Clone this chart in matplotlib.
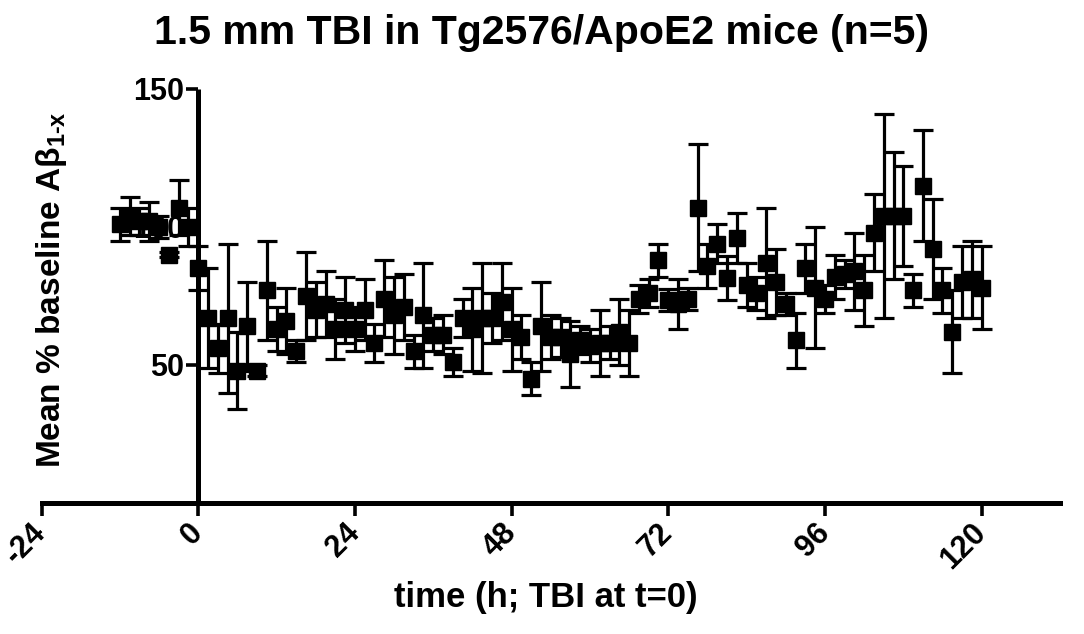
import matplotlib
matplotlib.use("Agg")
import matplotlib.pyplot as plt

plt.rcParams['font.family'] = ['Liberation Sans', 'DejaVu Sans']
plt.rcParams['font.weight'] = 'bold'
plt.rcParams['axes.unicode_minus'] = False
plt.rcParams['mathtext.fontset'] = 'custom'
plt.rcParams['mathtext.rm'] = 'Liberation Sans:bold'
plt.rcParams['mathtext.it'] = 'Liberation Sans:bold'
plt.rcParams['mathtext.bf'] = 'Liberation Sans:bold'

# time (h), TBI at t=0
time_h = [-12, -10.5, -9, -7.5, -6, -4.5, -3, -1.5, 0,
          1.5, 3, 4.5, 6, 7.5, 9, 10.5, 12, 13.5, 15, 16.5, 18, 19.5, 21, 22.5,
          24, 25.5, 27, 28.5, 30, 31.5, 33, 34.5, 36, 37.5, 39, 40.5, 42, 43.5,
          45, 46.5, 48, 49.5, 51, 52.5, 54, 55.5, 57, 58.5, 60, 61.5, 63, 64.5,
          66, 67.5, 69, 70.5, 72, 73.5, 75, 76.5, 78, 79.5, 81, 82.5, 84, 85.5,
          87, 88.5, 90, 91.5, 93, 94.5, 96, 97.5, 99, 100.5, 102, 103.5, 105,
          106.5, 108, 109.5, 111, 112.5, 114, 115.5, 117, 118.5, 120]

mean_pct = [101, 104, 102, 102, 100, 90, 107, 100, 85,
            67, 56, 67, 48, 64, 48, 77, 63, 66, 55, 75, 70, 72, 63, 70,
            63, 70, 58, 74, 68, 71, 55, 68, 61, 61, 51, 67, 63, 67,
            67, 73, 63, 60, 45, 64, 60, 60, 54, 59, 57, 58, 58, 62,
            58, 74, 76, 88, 73.5, 72, 74, 107, 86, 94, 81.5, 96, 79, 76,
            87, 80, 72, 59, 85, 78, 74, 82, 83, 84, 77, 98, 104,
            104, 104, 77, 115, 92, 77, 62, 80, 81, 78]

sem_pct = [6, 7, 5, 7, 4, 1, 10, 7, 8,
           18, 9, 27, 14, 16, 2, 18, 8, 12, 4, 16, 10, 12, 11, 12,
           8, 11, 7, 14, 14, 12, 6, 19, 6, 7, 5, 7, 15, 20,
           9, 14, 15, 8, 6, 16, 8, 7, 12, 5, 6, 12, 6, 12,
           12, 5, 5, 6, 4, 9, 4, 23, 8, 7, 8, 9, 8, 6,
           20, 12, 4, 10, 9, 22, 5, 8, 5, 14, 13, 14, 37,
           23, 18, 6, 20, 18, 8, 15, 13, 14, 15]

x_ticks = [-24, 0, 24, 48, 72, 96, 120]
y_ticks = [50, 100, 150]

W, H = 1084, 634
fig = plt.figure(figsize=(W / 100, H / 100), dpi=100)
ax = fig.add_axes([41.5 / W, 1 - 503 / H, (1060 - 41.5) / W, (503 - 89) / H])

ax.errorbar(time_h, mean_pct, yerr=sem_pct, fmt='s', color='black',
            ms=12, elinewidth=2.3, capsize=7.2, capthick=2.3, zorder=3)

ax.set_xlim(-24, 132)
ax.set_ylim(0, 150)

for s in ['top', 'right']:
    ax.spines[s].set_visible(False)
ax.spines['left'].set_position(('data', 0))
ax.spines['left'].set_linewidth(3.6)
ax.spines['bottom'].set_linewidth(3.6)
ax.spines['left'].set_capstyle('butt')

ax.set_xticks(x_ticks)
ax.set_yticks(y_ticks)
ax.tick_params(axis='both', direction='out', length=9, width=2.6,
               labelsize=22, colors='black')
ax.tick_params(axis='y', pad=1)
ax.tick_params(axis='x', pad=9)
for lab in ax.get_xticklabels():
    lab.set_rotation(45)
    lab.set_ha('right')
    lab.set_va('center')
    lab.set_rotation_mode('anchor')
    lab.set_fontweight('bold')
for lab in ax.get_yticklabels():
    lab.set_fontweight('bold')

fig.text(0.5, 1 - 33 / H, '1.5 mm TBI in Tg2576/ApoE2 mice (n=5)',
         ha='center', va='center', fontsize=29.5, fontweight='bold')
fig.text(546 / W, 1 - 597 / H, 'time (h; TBI at t=0)',
         ha='center', va='center', fontsize=25, fontweight='bold')
fig.text(52 / W, 1 - 290 / H, r'Mean % baseline Aβ$_{\mathrm{1\text{-}x}}$',
         ha='center', va='center', rotation=90, fontsize=24, fontweight='bold')

fig.savefig('out.png', dpi=100)
